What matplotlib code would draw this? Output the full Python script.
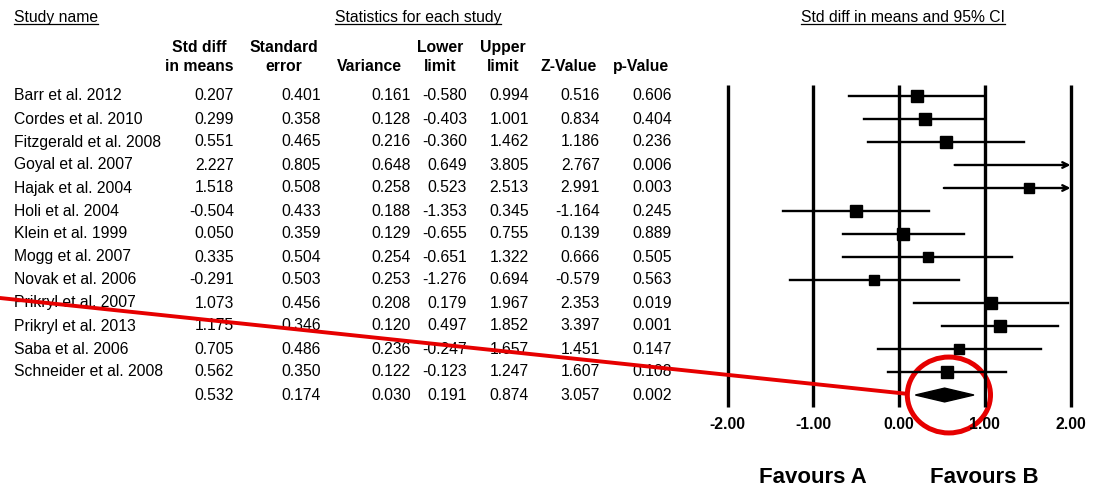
import matplotlib
matplotlib.use("Agg")
import matplotlib.pyplot as plt
import numpy as np
from matplotlib.patches import Ellipse, Polygon, ConnectionPatch
from matplotlib.lines import Line2D
from matplotlib.transforms import IdentityTransform

plt.rcParams['font.family'] = ['Liberation Sans', 'DejaVu Sans']

studies = ['Barr et al. 2012', 'Cordes et al. 2010', 'Fitzgerald et al. 2008',
           'Goyal et al. 2007', 'Hajak et al. 2004', 'Holi et al. 2004',
           'Klein et al. 1999', 'Mogg et al. 2007', 'Novak et al. 2006',
           'Prikryl et al. 2007', 'Prikryl et al. 2013', 'Saba et al. 2006',
           'Schneider et al. 2008']
smd = [0.207, 0.299, 0.551, 2.227, 1.518, -0.504, 0.050, 0.335, -0.291, 1.073, 1.175, 0.705, 0.562]
se = [0.401, 0.358, 0.465, 0.805, 0.508, 0.433, 0.359, 0.504, 0.503, 0.456, 0.346, 0.486, 0.350]
var = [0.161, 0.128, 0.216, 0.648, 0.258, 0.188, 0.129, 0.254, 0.253, 0.208, 0.120, 0.236, 0.122]
lower = [-0.580, -0.403, -0.360, 0.649, 0.523, -1.353, -0.655, -0.651, -1.276, 0.179, 0.497, -0.247, -0.123]
upper = [0.994, 1.001, 1.462, 3.805, 2.513, 0.345, 0.755, 1.322, 0.694, 1.967, 1.852, 1.657, 1.247]
zval = [0.516, 0.834, 1.186, 2.767, 2.991, -1.164, 0.139, 0.666, -0.579, 2.353, 3.397, 1.451, 1.607]
pval = [0.606, 0.404, 0.236, 0.006, 0.003, 0.245, 0.889, 0.505, 0.563, 0.019, 0.001, 0.147, 0.108]

summary = [0.532, 0.174, 0.030, 0.191, 0.874, 3.057, 0.002]

col_heads = [('Std diff', 'in means'), ('Standard', 'error'), ('', 'Variance'),
             ('Lower', 'limit'), ('Upper', 'limit'), ('', 'Z-Value'), ('', 'p-Value')]
xticks = [-2, -1, 0, 1, 2]

# layout (pixels)
W, H = 1094, 488
row0, rowh = 96, 23
col_right = [234, 321, 411, 467, 529, 600, 672]
col_center = [199, 284, 369, 440, 503, 569, 641]
fs = 11.3

fig = plt.figure(figsize=(W / 100, H / 100), dpi=100)
bg = fig.add_axes([0, 0, 1, 1])
bg.set_xlim(0, W)
bg.set_ylim((H - row0) / rowh, -row0 / rowh)
bg.axis('off')

n = len(studies)
rows = np.arange(n)

# table
for i in rows:
    bg.text(14, i, studies[i], fontsize=fs, va='center', ha='left')
    vals = [smd[i], se[i], var[i], lower[i], upper[i], zval[i], pval[i]]
    for x, v in zip(col_right, vals):
        bg.text(x, i, f'{v:.3f}', fontsize=fs, va='center', ha='right')
for x, v in zip(col_right, summary):
    bg.text(x, n, f'{v:.3f}', fontsize=fs, va='center', ha='right')

for x, (a, b) in zip(col_center, col_heads):
    if a:
        bg.text(x, -2.13, a, fontsize=fs, fontweight='bold', va='center', ha='center')
    bg.text(x, -1.3, b, fontsize=fs, fontweight='bold', va='center', ha='center')

tops = [bg.text(14, -3.43, 'Study name', fontsize=fs, va='center', ha='left'),
        bg.text(418, -3.43, 'Statistics for each study', fontsize=fs, va='center', ha='center'),
        bg.text(903, -3.43, 'Std diff in means and 95% CI', fontsize=fs, va='center', ha='center')]

# forest plot
xl = (-2.1, 2.1)
pxu = 85.75
left_px = 899 + xl[0] * pxu
ax = fig.add_axes([left_px / W, (H - (row0 + rowh * 14)) / H,
                   (xl[1] - xl[0]) * pxu / W, 15 * rowh / H])
ax.set_xlim(*xl)
ax.set_ylim(14, -1)
ax.axis('off')

for t in xticks:
    ax.plot([t, t], [-0.5, n + 0.5], color='black', lw=2.4, solid_capstyle='butt')
    ax.text(t, 14.3, f'{t:.2f}', fontsize=fs, fontweight='bold', ha='center', va='center',
            clip_on=False)

lo_c = np.clip(lower, -2, 2)
hi_c = np.clip(upper, -2, 2)
for i in rows:
    if upper[i] > 2:
        ax.annotate('', xy=(2, i), xytext=(lo_c[i], i),
                    arrowprops=dict(arrowstyle='->', lw=1.7, color='black',
                                    shrinkA=0, shrinkB=0, mutation_scale=10))
    else:
        ax.plot([lo_c[i], hi_c[i]], [i, i], color='black', lw=1.7)
    size = 12 * (0.161 / var[i]) ** 0.25 / 1.389
    ax.plot(smd[i], i, marker='s', color='black', markersize=size, linestyle='none')

est, lo, hi = summary[0], summary[3], summary[4]
ax.add_patch(Polygon([(lo, n), (est, n - 0.3), (hi, n), (est, n + 0.3)],
                     closed=True, color='black'))

ax.text(-1.0, 16.57, 'Favours A', fontsize=16, fontweight='bold', ha='center', va='center',
        clip_on=False)
ax.text(1.0, 16.57, 'Favours B', fontsize=16, fontweight='bold', ha='center', va='center',
        clip_on=False)

# red highlight of the pooled estimate
ew, eh = 0.97, 3.3
circ = Ellipse((est + 0.05, n), ew, eh, fill=False, edgecolor='#e60000', lw=3.6, clip_on=False)
ax.add_patch(circ)
con = ConnectionPatch(xyA=(0, (298 - row0) / rowh), coordsA=bg.transData,
                      xyB=(est + 0.05 - ew / 2, n - 0.05), coordsB=ax.transData,
                      color='#e60000', lw=2.8)
fig.add_artist(con)

# underline top headers
fig.canvas.draw()
r = fig.canvas.get_renderer()
for t in tops:
    bb = t.get_window_extent(r)
    fig.add_artist(Line2D([bb.x0, bb.x1], [bb.y0 + 0.5, bb.y0 + 0.5], color='black', lw=0.9,
                          transform=IdentityTransform()))

fig.savefig('out.png', dpi=100)
